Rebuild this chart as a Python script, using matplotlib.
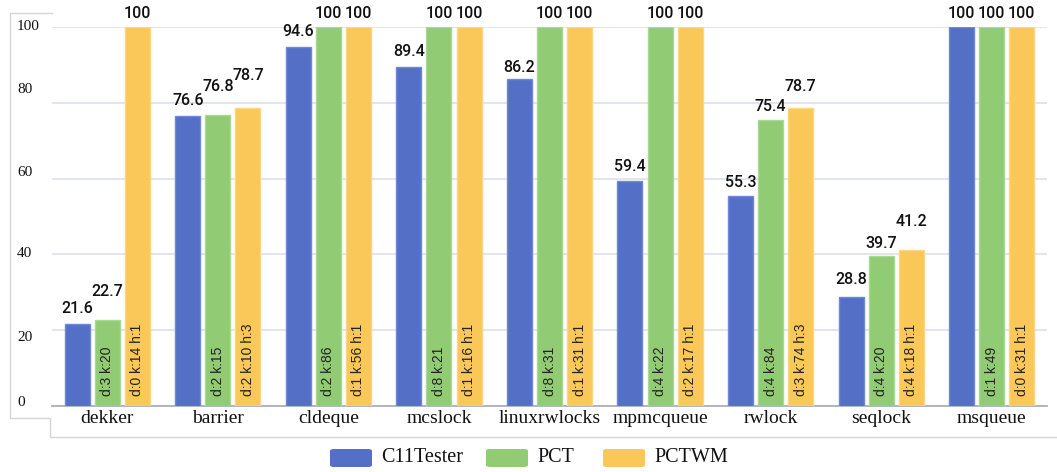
import matplotlib
matplotlib.use("Agg")
import matplotlib.pyplot as plt
from matplotlib.patches import FancyBboxPatch
from matplotlib.lines import Line2D
import numpy as np

categories = ["dekker", "barrier", "cldeque", "mcslock", "linuxrwlocks",
              "mpmcqueue", "rwlock", "seqlock", "msqueue"]
series_names = ["C11Tester", "PCT", "PCTWM"]
c11tester = [21.6, 76.6, 94.6, 89.4, 86.2, 59.4, 55.3, 28.8, 100]
pct = [22.7, 76.8, 100, 100, 100, 100, 75.4, 39.7, 100]
pctwm = [100, 78.7, 100, 100, 100, 100, 78.7, 41.2, 100]
pct_params = ["d:3 k:20", "d:2 k:15", "d:2 k:86", "d:8 k:21", "d:8 k:31",
              "d:4 k:22", "d:4 k:84", "d:4 k:20", "d:1 k:49"]
pctwm_params = ["d:0 k:14 h:1", "d:2 k:10 h:3", "d:1 k:56 h:1", "d:1 k:16 h:1",
                "d:1 k:31 h:1", "d:2 k:17 h:1", "d:3 k:74 h:3", "d:4 k:18 h:1",
                "d:0 k:31 h:1"]
yticks = [0, 20, 40, 60, 80, 100]

colors = ["#5470c6", "#91cc75", "#fac858"]
edge_colors = ["#7089d6", "#a9d993", "#fcd77f"]
# label gap above bar top (pixels), styling only
label_gaps = [
    [8, 8, 8, 8, 4, 7, 6, 10, 6],
    [21, 21, 6, 6, 6, 6, 6, 5, 6],
    [6, 25, 6, 6, 6, 6, 14, 21, 6],
]
# small vertical nudges of the y tick labels (pixels), styling only
ytick_nudge = {0: 3, 20: -7, 40: 1, 60: 6, 80: 13, 100: 1}

W, H = 1057, 472
fig = plt.figure(figsize=(W / 100, H / 100), dpi=100)
ax = fig.add_axes([52 / W, 1 - 406 / H, (1047 - 52) / W, (406 - 27) / H])

x = np.arange(len(categories))
bw = 0.226
step = 0.272
all_vals = [c11tester, pct, pctwm]
for i, (vals, col, ec) in enumerate(zip(all_vals, colors, edge_colors)):
    xs = x + (i - 1) * step
    ax.bar(xs, vals, width=bw, color=col, edgecolor=ec, linewidth=1.0, zorder=3)
    for j, (xx, v) in enumerate(zip(xs, vals)):
        ax.annotate(f"{v:g}", (xx, v), xytext=(0, label_gaps[i][j] * 0.72),
                    textcoords="offset points", ha="center", va="bottom",
                    fontsize=11.5, fontweight="medium", family="Roboto",
                    color="#111111", annotation_clip=False)

for j in range(len(categories)):
    ax.annotate(pct_params[j], (x[j], 0), xytext=(0, 7.5), textcoords="offset points",
                rotation=90, ha="center", va="bottom", fontsize=10,
                family="Liberation Sans", color="#222222")
    ax.annotate(pctwm_params[j], (x[j] + step, 0), xytext=(0, 7.5), textcoords="offset points",
                rotation=90, ha="center", va="bottom", fontsize=10,
                family="Liberation Sans", color="#222222")

ax.set_xlim(-0.5, len(categories) - 0.5)
ax.set_ylim(0, 100)
ax.set_yticks(yticks)
ax.yaxis.grid(True, color="#e2e4ee", linewidth=1.4, zorder=0)
ax.set_axisbelow(True)
for s in ["top", "right", "left"]:
    ax.spines[s].set_visible(False)
ax.spines["bottom"].set_color("#aab0bd")
ax.spines["bottom"].set_linewidth(1.3)
ax.tick_params(axis="both", length=0)
ax.set_yticklabels([])
ax.set_xticks(x)
ax.set_xticklabels(categories, fontsize=14, family="Liberation Serif", color="#111111")
ax.tick_params(axis="x", pad=3)

# y tick labels in the left framed box
fig.canvas.draw()
for t in yticks:
    yy = ax.transData.transform((0, t))[1]
    fig.text(17 / W, (yy + ytick_nudge[t]) / H, str(t), ha="left", va="center",
             fontsize=11, family="Liberation Serif", color="#111111")

# frame lines
fc = "#d4d6dc"
def fl(xs, ys):
    fig.add_artist(Line2D([v / W for v in xs], [1 - v / H for v in ys], color=fc, linewidth=1.0))
fl([52, 10, 10, 50], [13, 13, 418, 418])
fl([50, 50, 1057], [418, 437, 437])

# legend
leg_y = 458
items = [(330, "C11Tester"), (486, "PCT"), (603, "PCTWM")]
for (lx, name), col in zip(items, colors):
    fig.add_artist(FancyBboxPatch(((lx) / W, 1 - (leg_y + 9) / H), 42 / W, 18 / H,
                                  boxstyle="round,pad=0,rounding_size=0.004",
                                  facecolor=col, edgecolor="none", transform=fig.transFigure))
    fig.text((lx + 51) / W, 1 - leg_y / H, name, ha="left", va="center",
             fontsize=14.5, family="Liberation Serif", color="#111111")

fig.savefig("out.png", dpi=100)
